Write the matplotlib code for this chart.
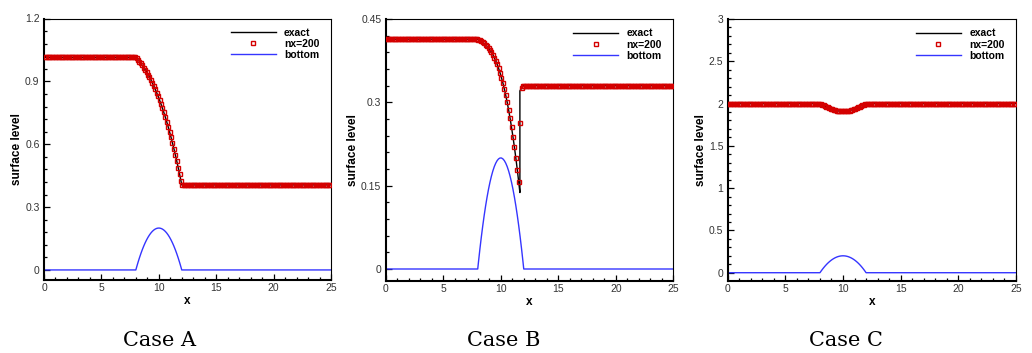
import numpy as np
import matplotlib
matplotlib.use("Agg")
import matplotlib.pyplot as plt
from matplotlib.ticker import MultipleLocator

plt.rcParams['font.family'] = ['Liberation Sans', 'DejaVu Sans']

# ---------------- data ----------------
nx = 200
x_cells = np.arange(nx) * 0.125 + 0.0625          # cell centres of the nx=200 grid
x_trans = list(x_cells[64:96])                     # cells over the bump (8 < x < 12)

# bottom topography (read at the cell centres over the bump)
bump_z = [0.0123, 0.0357, 0.0576, 0.0779, 0.0967, 0.1139, 0.1295, 0.1436,
          0.1561, 0.1670, 0.1764, 0.1842, 0.1904, 0.1951, 0.1982, 0.1998,
          0.1998, 0.1982, 0.1951, 0.1904, 0.1842, 0.1764, 0.1670, 0.1561,
          0.1436, 0.1295, 0.1139, 0.0967, 0.0779, 0.0576, 0.0357, 0.0123]
bottom_x = [0.0, 8.0] + x_trans + [12.0, 25.0]
bottom_z = [0.0, 0.0] + bump_z + [0.0, 0.0]

# Case A : transcritical flow without shock
A_up, A_down = 1.0145, 0.4058
A_trans = [1.0107, 1.0028, 0.9945, 0.9856, 0.9761, 0.9661, 0.9555, 0.9443,
           0.9325, 0.9200, 0.9067, 0.8928, 0.8781, 0.8626, 0.8463, 0.8292,
           0.8111, 0.7922, 0.7724, 0.7518, 0.7302, 0.7076, 0.6839, 0.6593,
           0.6336, 0.6069, 0.5791, 0.5501, 0.5201, 0.4889, 0.4565, 0.4230]

# Case B : transcritical flow with shock
B_up, B_down = 0.4137, 0.33
B_trans = [0.4131, 0.4117, 0.4101, 0.4082, 0.4061, 0.4037, 0.4010, 0.3978,
           0.3943, 0.3903, 0.3857, 0.3806, 0.3748, 0.3684, 0.3612, 0.3532,
           0.3443, 0.3347, 0.3241, 0.3124, 0.2998, 0.2860, 0.2711, 0.2551,
           0.2379, 0.2195, 0.1998, 0.1789, 0.1566]
B_num_after = [0.2636, 0.3255, 0.3287]
B_exact_after_x = [11.665, 11.665, 11.6875, 11.8125, 11.9375, 12.0, 25.0]
B_exact_after_y = [0.1376, 0.3206, 0.3214, 0.3255, 0.3287, 0.33, 0.33]

# Case C : subcritical flow
C_up, C_down = 2.0, 2.0
C_trans = [1.9958, 1.9875, 1.9793, 1.9711, 1.9631, 1.9553, 1.9477, 1.9406,
           1.9339, 1.9278, 1.9223, 1.9175, 1.9136, 1.9105, 1.9085, 1.9075,
           1.9075, 1.9085, 1.9105, 1.9136, 1.9175, 1.9223, 1.9278, 1.9339,
           1.9406, 1.9477, 1.9553, 1.9631, 1.9711, 1.9793, 1.9875, 1.9958]

x_ticks = [0, 5, 10, 15, 20, 25]
x_ticklabels = ['0', '5', '10', '15', '20', '25']
A_yticks = [0, 0.3, 0.6, 0.9, 1.2]
A_yticklabels = ['0', '0.3', '0.6', '0.9', '1.2']
B_yticks = [0, 0.15, 0.3, 0.45]
B_yticklabels = ['0', '0.15', '0.3', '0.45']
C_yticks = [0, 0.5, 1, 1.5, 2, 2.5, 3]
C_yticklabels = ['0', '0.5', '1', '1.5', '2', '2.5', '3']
captions = ['Case A', 'Case B', 'Case C']

# build the series
A_num = [A_up] * 64 + A_trans + [A_down] * 104
A_ex_x = [0.0, 8.0] + x_trans + [12.0, 25.0]
A_ex_y = [A_up, A_up] + A_trans + [A_down, A_down]

B_num = [B_up] * 64 + B_trans + B_num_after + [B_down] * 104
B_ex_x = [0.0, 8.0] + list(x_cells[64:93]) + B_exact_after_x
B_ex_y = [B_up, B_up] + B_trans + B_exact_after_y

C_num = [C_up] * 64 + C_trans + [C_down] * 104
C_ex_x = [0.0, 8.0] + x_trans + [12.0, 25.0]
C_ex_y = [C_up, C_up] + C_trans + [C_down, C_down]

W, H = 1032, 353
fig = plt.figure(figsize=(W / 100, H / 100), dpi=100)

panels = [
    dict(px=(44, 331, 18.5, 280), ylim=(-0.048, 1.2), yt=A_yticks, ytl=A_yticklabels, ymin=0.06,
         ex=(A_ex_x, A_ex_y), num=A_num, cap=captions[0], capx=160),
    dict(px=(385.7, 673.3, 19, 281), ylim=(-0.0216, 0.45), yt=B_yticks, ytl=B_yticklabels, ymin=0.03,
         ex=(B_ex_x, B_ex_y), num=B_num, cap=captions[1], capx=504),
    dict(px=(727.7, 1016, 19, 281), ylim=(-0.098, 3.0), yt=C_yticks, ytl=C_yticklabels, ymin=0.1,
         ex=(C_ex_x, C_ex_y), num=C_num, cap=captions[2], capx=846),
]

for p in panels:
    l, r, t, b = p['px']
    ax = fig.add_axes([l / W, 1 - b / H, (r - l) / W, (b - t) / H])
    ax.plot(p['ex'][0], p['ex'][1], color='black', lw=1.0, label='exact', zorder=2)
    ax.plot(x_cells, p['num'], ls='none', marker='s', ms=3.5, mfc='none',
            mec='#d40000', mew=1.0, label='nx=200', zorder=3)
    ax.plot(bottom_x, bottom_z, color='#3535ff', lw=1.0, label='bottom', zorder=2)
    ax.set_xlim(0, 25)
    ax.set_ylim(*p['ylim'])
    ax.set_xticks(x_ticks, labels=x_ticklabels)
    ax.set_yticks(p['yt'], labels=p['ytl'])
    ax.xaxis.set_minor_locator(MultipleLocator(1))
    ax.yaxis.set_minor_locator(MultipleLocator(p['ymin']))
    ax.tick_params(which='both', direction='in', top=False, right=False,
                   labelsize=7.5, labelcolor='#333333', width=0.9, color='black')
    ax.tick_params(which='major', length=4.3)
    ax.tick_params(which='minor', length=2.5)
    ax.tick_params(axis='x', which='major', pad=2.5)
    ax.tick_params(axis='y', which='major', pad=3.2)
    for s in ('left', 'bottom'):
        ax.spines[s].set_linewidth(1.5)
    for s in ('top', 'right'):
        ax.spines[s].set_linewidth(0.8)
    ax.set_xlabel('x', fontsize=8.5, fontweight='bold', labelpad=1)
    ax.set_ylabel('surface level', fontsize=8.5, fontweight='bold', labelpad=1.5)
    w_ax = r - l
    h_ax = b - t
    ax.legend(loc='upper right', bbox_to_anchor=(1 - 11.5 / w_ax, 1 - 9.5 / h_ax),
              frameon=False, prop=dict(weight='bold', size=7.5), handlelength=4.3,
              handletextpad=0.8, labelspacing=0.1, numpoints=1, borderaxespad=0,
              borderpad=0, markerscale=0.8)
    fig.text(p['capx'] / W, 1 - 341 / H, p['cap'], family='DejaVu Serif',
             fontsize=15, ha='center', va='center')

fig.savefig('out.png', dpi=100)
